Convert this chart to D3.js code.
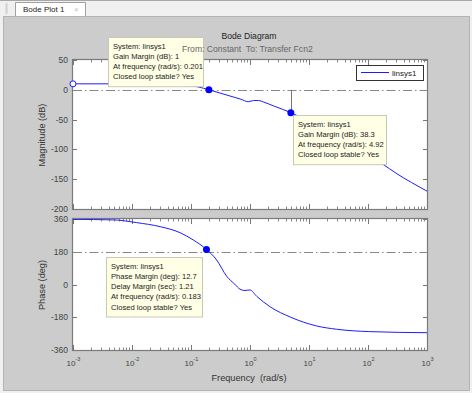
<!DOCTYPE html>
<meta charset="utf-8">
<head>
  <script src="https://d3js.org/d3.v7.min.js"></script>
</head>
<body style="margin:0">
<div id="chart"></div>

<style>
  body { background: #f0f0f0; }
  #chart text { font-family: "Liberation Sans", Arial, sans-serif; white-space: pre; }
</style>

<script type="text/javascript">
"use strict"

// magnitude curve (rad/s, dB)
var magFreq = [0.001, 0.01, 0.03, 0.05, 0.08, 0.13, 0.201, 0.3, 0.458, 0.7, 0.935, 1.15, 1.4, 1.7, 2.5, 4.92, 10, 20, 50, 100, 179, 300, 1000];
var magDb   = [10, 10, 9.8, 9, 7.5, 5, 0, -5, -10.4, -15.8, -20, -18, -18, -20.5, -27, -38.3, -53, -68, -92, -110, -125, -140, -170];

// phase curve (rad/s, deg)
var phaseFreq = [0.001, 0.005, 0.012, 0.03, 0.065, 0.109, 0.183, 0.272, 0.403, 0.55, 0.678, 0.82, 1.0, 1.3, 2.18, 4.92, 13.5, 29.5, 107, 1000];
var phaseDeg  = [358, 355, 340, 318, 285, 245, 192.7, 135, 45, 2, -26, -33, -30, -65, -122, -180, -228, -246, -259, -265];

var xTicks = [-3, -2, -1, 0, 1, 2, 3];
var magTicks = [-200, -150, -100, -50, 0, 50];
var phaseTicks = [-360, -180, 0, 180, 360];

var marginRefDb = 0, marginRefDeg = 180;

// data tips: freq, value, lines
var magTips = [
  {f: 0.201, v: 0, lines: ["System: linsys1", "Gain Margin (dB): 1", "At frequency (rad/s): 0.201", "Closed loop stable? Yes"]},
  {f: 4.92, v: -38.3, lines: ["System: linsys1", "Gain Margin (dB): 38.3", "At frequency (rad/s): 4.92", "Closed loop stable? Yes"]}
];
var phaseTips = [
  {f: 0.183, v: 192.7, lines: ["System: linsys1", "Phase Margin (deg): 12.7", "Delay Margin (sec): 1.21", "At frequency (rad/s): 0.183", "Closed loop stable? Yes"]}
];

var svg = d3.select('#chart').append('svg')
            .attr('width', 472)
            .attr('height', 393);

// window chrome
svg.append('rect').attr('x', 0).attr('y', 0).attr('width', 472).attr('height', 393).attr('fill', '#f0f0f0');
svg.append('line').attr('x1', 0).attr('x2', 472).attr('y1', 0.5).attr('y2', 0.5).attr('stroke', '#a8a8a8');
svg.append('rect').attr('x', 5.5).attr('y', 3).attr('width', 2).attr('height', 11).attr('fill', '#d0d0d0');
svg.append('path').attr('d', 'M15.5,17 L15.5,2.5 L85.5,2.5 L85.5,17').attr('fill', '#fff').attr('stroke', '#a0a0a0');
svg.append('text').attr('x', 23).attr('y', 12).attr('font-size', 8).attr('fill', '#222').text('Bode Plot 1');
svg.append('text').attr('x', 74).attr('y', 12).attr('font-size', 8).attr('fill', '#bbb').text('\u00d7');
svg.append('rect').attr('x', 3.5).attr('y', 16.5).attr('width', 466).attr('height', 374)
   .attr('fill', '#cccccc').attr('stroke', '#b4b4b4');

var x = d3.scaleLog().domain([1e-3, 1e3]).range([73, 427]);
var yMag = d3.scaleLinear().domain([-200, 50]).range([209, 60]);
var yPh = d3.scaleLinear().domain([-360, 360]).range([350, 219]);

var minor = [];
xTicks.slice(0, -1).forEach(function(e) {
  for (var k = 2; k < 10; k++) minor.push(k * Math.pow(10, e));
});
var major = xTicks.map(function(e) { return Math.pow(10, e); });

function drawAxes(y, ticks, refValue, cls) {
  var g = svg.append('g');
  var top = y.range()[1], bot = y.range()[0];

  g.append('rect')
   .attr('x', x.range()[0]).attr('y', top)
   .attr('width', x.range()[1] - x.range()[0]).attr('height', bot - top)
   .attr('fill', '#fff');

  // x ticks, top and bottom, pointing inside
  [[bot, -1], [top, 1]].forEach(function(p) {
    g.selectAll(null).data(major).enter().append('line')
     .attr('x1', function(d) { return x(d) + 0.5; }).attr('x2', function(d) { return x(d) + 0.5; })
     .attr('y1', p[0]).attr('y2', p[0] + p[1] * 5)
     .attr('stroke', '#777');
    g.selectAll(null).data(minor).enter().append('line')
     .attr('x1', function(d) { return Math.round(x(d)) + 0.5; }).attr('x2', function(d) { return Math.round(x(d)) + 0.5; })
     .attr('y1', p[0]).attr('y2', p[0] + p[1] * 2.5)
     .attr('stroke', '#888');
  });

  // y ticks left and right
  [[x.range()[0], 1], [x.range()[1], -1]].forEach(function(p) {
    g.selectAll(null).data(ticks).enter().append('line')
     .attr('x1', p[0]).attr('x2', p[0] + p[1] * 4)
     .attr('y1', function(d) { return Math.round(y(d)) + 0.5; })
     .attr('y2', function(d) { return Math.round(y(d)) + 0.5; })
     .attr('stroke', '#777');
  });

  g.selectAll(null).data(ticks).enter().append('text')
   .attr('x', 68).attr('y', function(d) { return y(d) + 3; })
   .attr('text-anchor', 'end').attr('font-size', 8.5).attr('fill', '#444')
   .text(function(d) { return d; });

  // reference line
  g.append('line')
   .attr('x1', x.range()[0]).attr('x2', x.range()[1])
   .attr('y1', Math.round(y(refValue)) + 0.5).attr('y2', Math.round(y(refValue)) + 0.5)
   .attr('stroke', '#888').attr('stroke-dasharray', '9,3,1.5,3');

  g.append('rect')
   .attr('x', x.range()[0] - 0.5).attr('y', top - 0.5)
   .attr('width', x.range()[1] - x.range()[0] + 1).attr('height', bot - top + 1)
   .attr('fill', 'none').attr('stroke', '#7a7a7a').attr('stroke-width', 1.2);

  svg.append('clipPath').attr('id', cls)
     .append('rect').attr('x', x.range()[0]).attr('y', top)
     .attr('width', x.range()[1] - x.range()[0]).attr('height', bot - top);
  return g;
}

var gMag = drawAxes(yMag, magTicks, marginRefDb, 'clipMag');
var gPh = drawAxes(yPh, phaseTicks, marginRefDeg, 'clipPh');

var linha = function(y) {
  return d3.line()
           .x(function(d) { return x(d[0]); })
           .y(function(d) { return y(d[1]); })
           .curve(d3.curveMonotoneX);
};

gMag.append('path')
    .datum(magFreq.map(function(f, i) { return [f, magDb[i]]; }))
    .attr('d', linha(yMag))
    .attr('clip-path', 'url(#clipMag)')
    .attr('fill', 'none').attr('stroke', '#1c1cff').attr('stroke-width', 1);

gPh.append('path')
   .datum(phaseFreq.map(function(f, i) { return [f, phaseDeg[i]]; }))
   .attr('d', linha(yPh))
   .attr('clip-path', 'url(#clipPh)')
   .attr('fill', 'none').attr('stroke', '#1c1cff').attr('stroke-width', 1);

// start marker
gMag.append('circle')
    .attr('cx', x(magFreq[0])).attr('cy', yMag(magDb[0])).attr('r', 3)
    .attr('fill', '#fff').attr('stroke', '#1c1cff');

// gain margin stem
gMag.append('line')
    .attr('x1', Math.round(x(magTips[1].f)) + 0.5).attr('x2', Math.round(x(magTips[1].f)) + 0.5)
    .attr('y1', yMag(marginRefDb)).attr('y2', yMag(magTips[1].v))
    .attr('stroke', '#777');

function drawTip(g, y, tip, bx, by, bw) {
  g.append('circle')
   .attr('cx', x(tip.f)).attr('cy', y(tip.v)).attr('r', 3.5)
   .attr('fill', '#0000ff');
  var lh = 10.3;
  g.append('rect')
   .attr('x', bx + 0.5).attr('y', by + 0.5)
   .attr('width', bw).attr('height', tip.lines.length * lh + 8)
   .attr('fill', '#ffffe6').attr('stroke', '#c8c8b4');
  g.selectAll(null).data(tip.lines).enter().append('text')
   .attr('x', bx + 5).attr('y', function(d, i) { return by + 11.5 + i * lh; })
   .attr('font-size', 7.6).attr('fill', '#1a1a1a')
   .text(function(d) { return d; });
}

drawTip(gMag, yMag, magTips[0], 108, 37, 95);
drawTip(gMag, yMag, magTips[1], 293, 115, 93);
drawTip(gPh, yPh, phaseTips[0], 106, 257, 96);

// x tick labels on the phase axes
var lab = svg.selectAll(null).data(xTicks).enter().append('text')
             .attr('x', function(d) { return x(Math.pow(10, d)) + 0.5; })
             .attr('y', 366)
             .attr('text-anchor', 'middle')
             .attr('fill', '#444');
lab.append('tspan').attr('font-size', 8).text('10');
lab.append('tspan').attr('font-size', 5.5).attr('dy', -5).text(function(d) { return d; });

// legend
var leg = svg.append('g');
leg.append('rect').attr('x', 356.5).attr('y', 65.5).attr('width', 67).attr('height', 15)
   .attr('fill', '#fff').attr('stroke', '#333');
leg.append('line').attr('x1', 361).attr('x2', 389).attr('y1', 72.5).attr('y2', 72.5)
   .attr('stroke', '#1c1cff');
leg.append('text').attr('x', 392).attr('y', 76).attr('font-size', 8).attr('fill', '#222').text('linsys1');

// titles
svg.append('text').attr('x', 249).attr('y', 39).attr('text-anchor', 'middle')
   .attr('font-size', 8.6).attr('fill', '#222').text('Bode Diagram');
svg.append('text').attr('x', 182).attr('y', 52)
   .attr('font-size', 8.6).attr('fill', '#666').text('From: Constant  To: Transfer Fcn2');

svg.append('text').attr('transform', 'translate(45,135) rotate(-90)')
   .attr('text-anchor', 'middle').attr('font-size', 9.2).attr('fill', '#333').text('Magnitude (dB)');
svg.append('text').attr('transform', 'translate(45,285) rotate(-90)')
   .attr('text-anchor', 'middle').attr('font-size', 9.2).attr('fill', '#333').text('Phase (deg)');
svg.append('text').attr('x', 249).attr('y', 381).attr('text-anchor', 'middle')
   .attr('font-size', 9.2).attr('fill', '#333').text('Frequency  (rad/s)');
</script>
</body>
